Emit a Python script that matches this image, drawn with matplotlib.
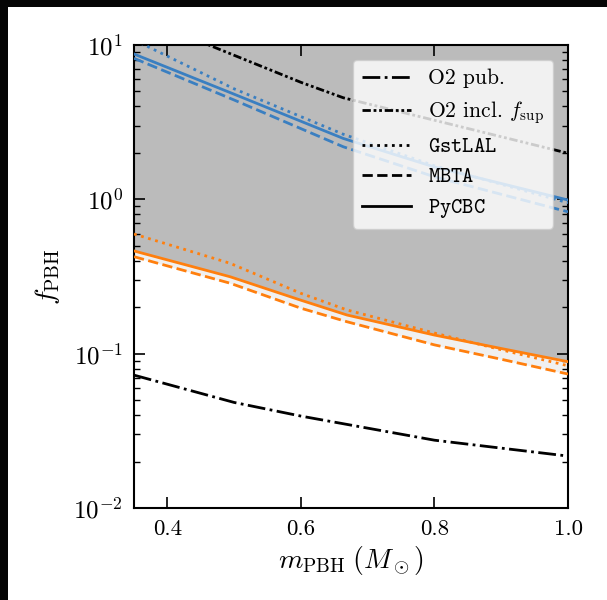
import numpy as np
import matplotlib
matplotlib.use("Agg")
import matplotlib.pyplot as plt
from matplotlib.patches import Rectangle

plt.rcParams['font.family'] = 'serif'
plt.rcParams['font.serif'] = ['cmr10']
plt.rcParams['mathtext.fontset'] = 'cm'
plt.rcParams['axes.formatter.use_mathtext'] = True

# data
m_o2pub = [0.35, 0.5, 0.6, 0.8, 1.0]
f_o2pub = [0.0726, 0.0483, 0.0394, 0.0275, 0.0217]

m_o2sup = [0.35, 0.4, 0.462, 0.6, 0.6635, 1.0]
f_o2sup = [17.9, 13.5, 10.0, 5.73, 4.55, 1.99]

m_blue = [0.35, 0.5, 0.6635, 0.8, 1.0]
f_blue_gst = [10.8, 5.2, 2.64, 1.65, 0.95]
f_blue_mbta = [8.2, 4.4, 2.19, 1.40, 0.83]
f_blue_pycbc = [8.74, 4.8, 2.48, 1.62, 0.99]

m_orange = [0.35, 0.494, 0.6, 0.669, 0.8, 0.9, 1.0]
f_orange_gst = [0.596, 0.385, 0.246, 0.192, 0.136, 0.106, 0.0835]
f_orange_mbta = [0.425, 0.286, 0.197, 0.161, 0.114, 0.092, 0.0738]
f_orange_pycbc = [0.463, 0.315, 0.222, 0.178, 0.132, 0.108, 0.0887]

blue = '#3a7fc1'
orange = '#ff7f0e'

fig = plt.figure(figsize=(6.07, 6.0), dpi=100)
fig.patch.set_facecolor('#050505')
fig.add_artist(Rectangle((8/607, 0), 1, 1 - 7/600, transform=fig.transFigure,
                         facecolor='white', edgecolor='none', zorder=-1))
ax = fig.add_axes([134/607, 1 - 508/600, 434/607, 463/600])

# shaded regions
ax.fill_between(m_orange, f_orange_pycbc, 10, color='#bbbbbb', lw=0, zorder=1)
ax.fill_between(m_orange, f_orange_mbta, f_orange_pycbc, color='#f0f0f0', lw=0, zorder=1)

lw = 2
ax.plot(m_o2pub, f_o2pub, color='k', ls='-.', lw=lw, zorder=3)
ax.plot(m_o2sup, f_o2sup, color='k', ls=(0, (3, 1, 1, 1, 1, 1)), lw=lw, zorder=3)

ax.plot(m_blue, f_blue_gst, color=blue, ls=':', lw=lw, zorder=3)
ax.plot(m_blue, f_blue_mbta, color=blue, ls='--', lw=lw, zorder=3)
ax.plot(m_blue, f_blue_pycbc, color=blue, ls='-', lw=lw, zorder=3)

ax.plot(m_orange, f_orange_gst, color=orange, ls=':', lw=lw, zorder=3)
ax.plot(m_orange, f_orange_mbta, color=orange, ls='--', lw=lw, zorder=3)
ax.plot(m_orange, f_orange_pycbc, color=orange, ls='-', lw=lw, zorder=3)

# legend entries (black)
h1, = ax.plot([], [], color='k', ls='-.', lw=lw, label='O2 pub.')
h2, = ax.plot([], [], color='k', ls=(0, (3, 1, 1, 1, 1, 1)), lw=lw,
              label=r'O2 incl. $f_{\rm sup}$')
h3, = ax.plot([], [], color='k', ls=':', lw=lw, label=r'$\mathtt{GstLAL}$')
h4, = ax.plot([], [], color='k', ls='--', lw=lw, label=r'$\mathtt{MBTA}$')
h5, = ax.plot([], [], color='k', ls='-', lw=lw, label=r'$\mathtt{PyCBC}$')
leg = ax.legend(handles=[h1, h2, h3, h4, h5], loc='upper right', fontsize=15.5,
                handlelength=2.3, framealpha=0.8, borderaxespad=0.7)
leg.set_zorder(5)

ax.set_yscale('log')
ax.set_xlim(0.35, 1.0)
ax.set_ylim(1e-2, 1e1)
ax.set_xticks([0.4, 0.6, 0.8, 1.0])
ax.set_xticklabels(['0.4', '0.6', '0.8', '1.0'])
ax.tick_params(which='both', direction='in', top=True, right=True)
ax.tick_params(axis='x', labelsize=16.5, pad=8)
ax.tick_params(axis='y', labelsize=18, pad=8)
ax.tick_params(which='major', length=8, width=1.2)
ax.tick_params(which='minor', length=4, width=1)
for s in ax.spines.values():
    s.set_linewidth(1.5)

ax.set_xlabel(r'$m_{\rm PBH}\;(M_\odot)$', fontsize=20)
ax.set_ylabel(r'$f_{\rm PBH}$', fontsize=20, labelpad=8)

fig.savefig('out.png', dpi=100)
